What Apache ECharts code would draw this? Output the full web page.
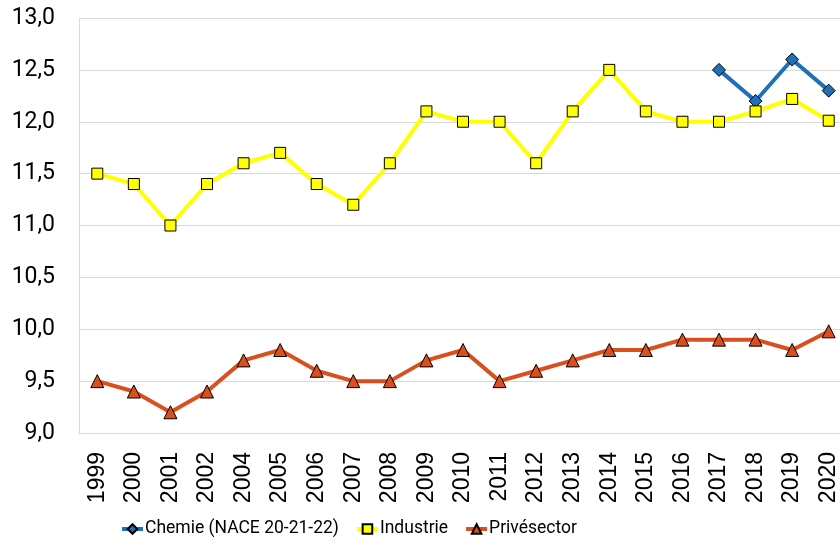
<!DOCTYPE html>
<html>
<head>
<meta charset="utf-8">
<script src="https://cdn.jsdelivr.net/npm/echarts@6/dist/echarts.min.js"></script>
<style>
  html, body { margin: 0; padding: 0; background: #fff; overflow: hidden; }
  /* a bit wider than the window: the plot area is cut off at the right edge */
  #chart { width: 847px; height: 542px; }
</style>
</head>
<body>
<div id="chart"></div>
<script>
var years = ['1999', '2000', '2001', '2002', '2004', '2005', '2006', '2007', '2008', '2009', '2010',
  '2011', '2012', '2013', '2014', '2015', '2016', '2017', '2018', '2019', '2020'];

var chemie = [null, null, null, null, null, null, null, null, null, null, null,
  null, null, null, null, null, null, 12.5, 12.2, 12.6, 12.3];

var industrie = [11.5, 11.4, 11.0, 11.4, 11.6, 11.7, 11.4, 11.2, 11.6, 12.1, 12.0,
  12.0, 11.6, 12.1, 12.5, 12.1, 12.0, 12.0, 12.1, 12.22, 12.01];

var privesector = [9.5, 9.4, 9.2, 9.4, 9.7, 9.8, 9.6, 9.5, 9.5, 9.7, 9.8,
  9.5, 9.6, 9.7, 9.8, 9.8, 9.9, 9.9, 9.9, 9.8, 9.98];

var chart = echarts.init(document.getElementById('chart'));

function lineSeries(name, data, color, symbol, size) {
  return {
    name: name,
    type: 'line',
    data: data,
    symbol: symbol,
    symbolSize: size,
    connectNulls: false,
    lineStyle: { color: color, width: 4 },
    itemStyle: { color: color, borderColor: '#000', borderWidth: 1 },
    emphasis: { disabled: true },
    z: 2
  };
}

var option = {
  animation: false,
  backgroundColor: '#fff',
  textStyle: { fontFamily: 'Roboto' },
  grid: { left: 79, right: 0, top: 18, bottom: 109, containLabel: false },
  xAxis: {
    type: 'category',
    data: years,
    boundaryGap: true,
    axisLine: { lineStyle: { color: '#d9d9d9', width: 1 } },
    axisTick: { show: false },
    axisLabel: {
      rotate: 90,
      margin: 19,
      interval: 0,
      color: '#000',
      fontSize: 23,
      fontFamily: 'Liberation Sans'
    }
  },
  yAxis: {
    type: 'value',
    min: 9,
    max: 13,
    interval: 0.5,
    axisLine: { show: true, lineStyle: { color: '#d9d9d9', width: 1 } },
    axisTick: { show: false },
    splitLine: { lineStyle: { color: '#d9d9d9', width: 1 } },
    axisLabel: {
      margin: 24,
      color: '#000',
      fontSize: 23,
      fontFamily: 'Roboto',
      formatter: function (v) { return v.toFixed(1).replace('.', ','); }
    }
  },
  legend: {
    left: 120,
    top: 520,
    padding: 0,
    itemWidth: 21,
    itemHeight: 12,
    itemGap: 16,
    lineStyle: { width: 4 },
    textStyle: {
      fontSize: 17.5,
      color: '#000',
      fontFamily: 'Roboto',
      padding: [0, 0, 0, -3]
    },
    data: ['Chemie (NACE 20-21-22)', 'Industrie', 'Privésector']
  },
  series: [
    lineSeries('Chemie (NACE 20-21-22)', chemie, '#1f70b8', 'diamond', 13),
    lineSeries('Industrie', industrie, '#ffff00', 'rect', 11),
    lineSeries('Privésector', privesector, '#d9501e', 'triangle', 13)
  ]
};

chart.setOption(option);
</script>
</body>
</html>
